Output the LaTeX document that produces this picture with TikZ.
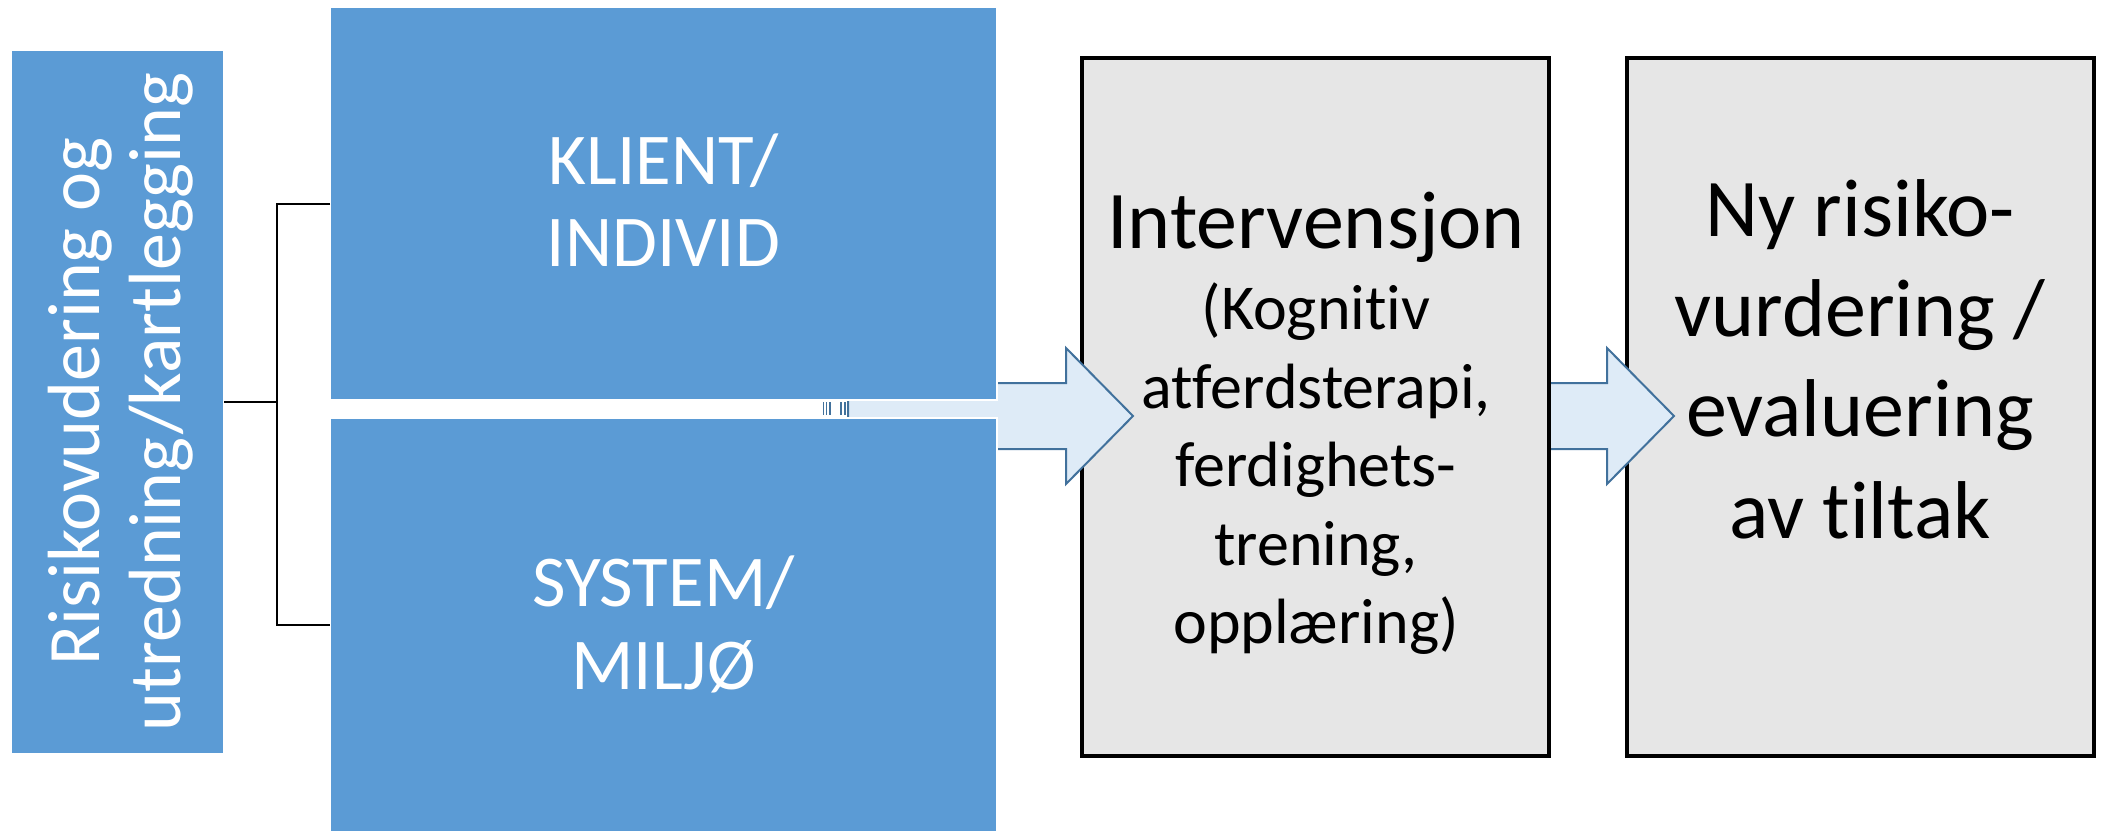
\documentclass[tikz,border=0pt]{standalone}
\usepackage{fontspec}
\setmainfont{Carlito}[Ligatures={NoCommon,NoContextual}]
\definecolor{boxblue}{HTML}{5B9BD5}
\definecolor{arrfill}{HTML}{DEEBF7}
\definecolor{arrline}{HTML}{41719C}
\definecolor{boxgray}{HTML}{E6E6E6}
\begin{document}
\begin{tikzpicture}[x=0.5pt,y=-0.5pt,
 bluebox/.style={fill=boxblue, draw=white, line width=0.75pt, inner sep=0pt, outer sep=0pt},
 graybox/.style={fill=boxgray, draw=black, line width=2pt, inner sep=0pt, outer sep=0pt, minimum width=233.5pt, minimum height=349pt},
 arrowshape/.style={fill=arrfill, draw=arrline, line width=1pt, line join=miter},
 bracket/.style={draw=black, line width=1pt},
 whitetxt/.style={text=white, font=\fontsize{36.5}{41}\selectfont, inner sep=0pt, anchor=base},
 bigtxt/.style={text=black, font=\fontsize{41}{50}\selectfont, inner sep=0pt, anchor=base},
 subtxt/.style={text=black, font=\fontsize{32}{39}\selectfont, inner sep=0pt, anchor=base},
 tickmark/.style={draw=arrline, line width=0.7pt}]
\useasboundingbox (0,0) rectangle (2103,830);
% grey boxes and arrows
\node[graybox] (eval) at (1860,407) {};
\path[arrowshape] (1520,383) -- (1607,383) -- (1607,348) -- (1674,416) -- (1607,484) -- (1607,449) -- (1520,449) -- cycle;
\node[graybox] (interv) at (1315.5,407) {};
\path[arrowshape] (848,383) -- (1066,383) -- (1066,348) -- (1133,416) -- (1066,484) -- (1066,449) -- (848,449) -- cycle;
% blue boxes
\node[bluebox, minimum width=333.5pt, minimum height=196.5pt] (klient) at (663.5,203.5) {};
\node[bluebox, minimum width=333.5pt, minimum height=207pt] (system) at (663.5,625) {};
\node[bluebox, minimum width=106.5pt, minimum height=352pt] (risk) at (117.5,402) {};
% tick marks in the gap
\foreach \tx in {823.3,826.7,830,841,845} \draw[tickmark] (\tx,402) -- (\tx,415);
% bracket
\coordinate (brk) at (277,402);
\draw[bracket] (risk.east) -- (brk);
\draw[bracket] (klient.west) -| (brk) |- (system.west);
% texts
\node[whitetxt, font=\fontsize{37}{41}\selectfont, rotate=90] (r1) at (99,401.5) {Risikovudering og};
\node[whitetxt, font=\fontsize{37}{41}\selectfont, rotate=90] (r2) at (180,402) {utredning/kartlegging};
\node[whitetxt] (k1) at (663.5,184.5) {KLIENT/};
\node[whitetxt] (k2) at (663.5,266.7) {INDIVID};
\node[whitetxt] (s1) at (663.5,606) {SYSTEM/};
\node[whitetxt] (s2) at (663.5,689) {MILJØ};
\node[bigtxt] (i0) at (1316,248) {Intervensjon};
\node[subtxt] (i1) at (1316,329) {(Kognitiv};
\node[subtxt] (i2) at (1316,408) {atferdsterapi,};
\node[subtxt] (i3) at (1316,486) {ferdighets-};
\node[subtxt] (i4) at (1316,565) {trening,};
\node[subtxt] (i5) at (1316,643) {opplæring)};
\node[bigtxt] (e1) at (1860,236) {Ny risiko-};
\node[bigtxt] (e2) at (1860,336) {vurdering /};
\node[bigtxt] (e3) at (1860,436) {evaluering};
\node[bigtxt] (e4) at (1860,538) {av tiltak};
\end{tikzpicture}
\end{document}
